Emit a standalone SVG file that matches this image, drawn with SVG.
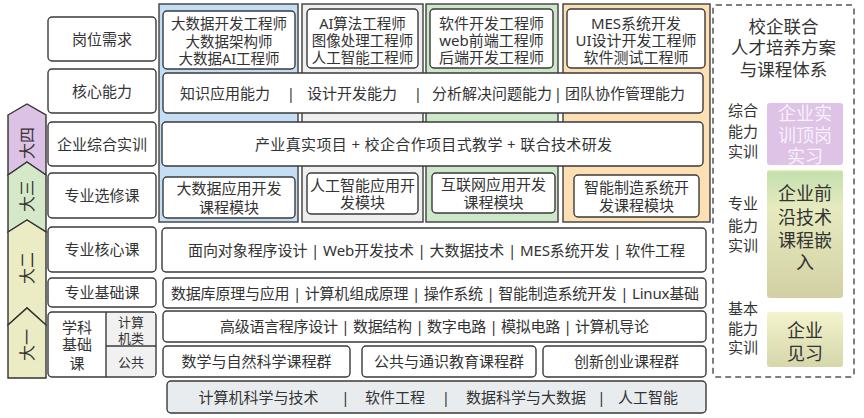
<svg xmlns="http://www.w3.org/2000/svg" width="864" height="418" viewBox="0 0 864 418">
<defs>
<style>
.t{font-family:"Noto Sans","Noto Sans CJK SC",sans-serif;fill:#333;text-anchor:middle;font-size:15px}
.s14{font-size:14.5px}
.s13{font-size:13px}
.s16{font-size:16px}
.s18{font-size:18px}
.s17{font-size:17.5px}
.box{fill:#fff;stroke:#3a3a3a;stroke-width:1.4}
.col{stroke:#4a4a4a;stroke-width:1.5}
.yr{stroke:#333;stroke-width:1.4}
</style>
<linearGradient id="gGreen" x1="0" y1="0" x2="0" y2="1">
<stop offset="0" stop-color="#c3dfae"/>
<stop offset="0.3" stop-color="#e6ebbf"/>
<stop offset="1" stop-color="#d2d0a4"/>
</linearGradient>
<linearGradient id="gYellow" x1="0" y1="0" x2="0" y2="1">
<stop offset="0" stop-color="#f3f3cd"/>
<stop offset="1" stop-color="#d6d6ab"/>
</linearGradient>
</defs>
<rect width="864" height="418" fill="#fff"/>

<g id="columns">
<rect class="col" x="159" y="4" width="139" height="218" fill="#c4dff5"/>
<rect class="col" x="302" y="4" width="121" height="218" fill="#efefef"/>
<rect class="col" x="426" y="4" width="132" height="218" fill="#cde8c9"/>
<rect class="col" x="563" y="4" width="147" height="218" fill="#fddfb4"/>
</g>

<g id="year4"><polygon class="yr" points="8,115 27,104 46,115 46,175 27,162 8,175" fill="#dcc2e4"/>
<text class="t s16" transform="translate(27,143) rotate(-90)" x="0" y="5.8">大四</text></g>
<g id="year3"><polygon class="yr" points="8,175 27,162 46,175 46,232 27,220 8,232" fill="#d5e9c9"/>
<text class="t s16" transform="translate(27,196) rotate(-90)" x="0" y="5.8">大三</text></g>
<g id="year2"><polygon class="yr" points="8,232 27,220 46,232 46,325 27,308 8,325" fill="#ebebc4"/>
<text class="t s16" transform="translate(27,268) rotate(-90)" x="0" y="5.8">大二</text></g>
<g id="year1"><polygon class="yr" points="8,325 27,308 46,325 46,378 8,378" fill="#ebebc4"/>
<text class="t s16" transform="translate(27,345) rotate(-90)" x="0" y="5.8">大一</text></g>

<g id="label-jobs"><rect class="box" x="48" y="17" width="108" height="44" rx="4"/><text class="t" x="102" y="44.5">岗位需求</text></g>
<g id="label-ability"><rect class="box" x="48" y="69" width="108" height="44" rx="4"/><text class="t" x="102" y="96.5">核心能力</text></g>
<g id="label-training"><rect class="box" x="48" y="122" width="108" height="44" rx="4"/><text class="t" x="102" y="149.5">企业综合实训</text></g>
<g id="label-elective"><rect class="box" x="48" y="173" width="108" height="45" rx="4"/><text class="t" x="102" y="201">专业选修课</text></g>
<g id="label-core"><rect class="box" x="48" y="227" width="108" height="45" rx="4"/><text class="t" x="102" y="255">专业核心课</text></g>
<g id="label-basic"><rect class="box" x="48" y="278" width="108" height="29" rx="4"/><text class="t" x="102" y="298">专业基础课</text></g>
<g id="label-subject">
<rect class="box" x="48" y="312" width="108" height="65" rx="4"/>
<rect x="106.5" y="313" width="48.5" height="63" fill="#f1f1f1"/>
<line x1="106" y1="312" x2="106" y2="377" stroke="#3a3a3a" stroke-width="1.4"/>
<line x1="106" y1="346" x2="156" y2="346" stroke="#3a3a3a" stroke-width="1.4"/>
<text class="t"><tspan x="77" y="332.5">学科</tspan><tspan x="77" y="350">基础</tspan><tspan x="77" y="368.5">课</tspan></text>
<text class="t s13"><tspan x="131" y="326.8">计算</tspan><tspan x="131" y="342.8">机类</tspan></text>
<text class="t s13" x="131" y="366.8">公共</text>
</g>

<g id="job-bigdata"><rect class="box" x="163" y="11" width="132" height="58" rx="4"/>
<text class="t s14"><tspan x="229" y="29">大数据开发工程师</tspan><tspan x="229" y="46.5">大数据架构师</tspan><tspan x="229" y="64">大数据AI工程师</tspan></text></g>
<g id="job-ai"><rect class="box" x="307" y="9" width="111" height="59" rx="4"/>
<text class="t s14"><tspan x="362.5" y="28.5">AI算法工程师</tspan><tspan x="362.5" y="46">图像处理工程师</tspan><tspan x="362.5" y="63">人工智能工程师</tspan></text></g>
<g id="job-web"><rect class="box" x="430" y="9" width="123" height="59" rx="4"/>
<text class="t"><tspan x="491.5" y="28.5">软件开发工程师</tspan><tspan x="491.5" y="46">web前端工程师</tspan><tspan x="491.5" y="63">后端开发工程师</tspan></text></g>
<g id="job-mes"><rect class="box" x="567" y="9" width="138" height="59" rx="4"/>
<text class="t"><tspan x="636" y="28.5">MES系统开发</tspan><tspan x="636" y="46">UI设计开发工程师</tspan><tspan x="636" y="63">软件测试工程师</tspan></text></g>

<g id="ability"><rect class="box" x="163" y="73" width="540" height="40" rx="4"/>
<text class="t" y="98.5"><tspan x="225">知识应用能力</tspan><tspan x="291">|</tspan><tspan x="352">设计开发能力</tspan><tspan x="418">|</tspan><tspan x="492">分析解决问题能力</tspan><tspan x="558">|</tspan><tspan x="625">团队协作管理能力</tspan></text></g>

<g id="training"><rect class="box" x="162" y="122" width="541" height="44" rx="4"/>
<text class="t" x="433.5" y="149.5" textLength="357" lengthAdjust="spacing">产业真实项目 + 校企合作项目式教学 + 联合技术研发</text></g>

<g id="mod-bigdata"><rect class="box" x="163" y="177" width="132" height="41" rx="4"/>
<text class="t"><tspan x="229" y="193.5">大数据应用开发</tspan><tspan x="229" y="212.5">课程模块</tspan></text></g>
<g id="mod-ai"><rect class="box" x="307" y="173" width="111" height="41" rx="4"/>
<text class="t"><tspan x="362.5" y="190.5">人工智能应用开</tspan><tspan x="362.5" y="208">发模块</tspan></text></g>
<g id="mod-web"><rect class="box" x="432" y="173" width="123" height="40" rx="4"/>
<text class="t"><tspan x="493.5" y="190">互联网应用开发</tspan><tspan x="493.5" y="208">课程模块</tspan></text></g>
<g id="mod-mes"><rect class="box" x="574" y="175" width="125" height="42" rx="4"/>
<text class="t"><tspan x="636.5" y="192.5">智能制造系统开</tspan><tspan x="636.5" y="210.5">发课程模块</tspan></text></g>

<g id="core-courses"><rect class="box" x="162" y="228" width="544" height="44" rx="4"/>
<text class="t" x="436.5" y="255.5" textLength="497" lengthAdjust="spacing">面向对象程序设计 | Web开发技术 | 大数据技术 | MES系统开发 | 软件工程</text></g>
<g id="basic-courses"><rect class="box" x="163" y="278" width="543" height="30" rx="4"/>
<text class="t" x="435" y="298.5" textLength="528" lengthAdjust="spacing">数据库原理与应用 | 计算机组成原理 | 操作系统 | 智能制造系统开发 | Linux基础</text></g>
<g id="cs-courses"><rect class="box" x="163" y="311" width="543" height="31" rx="4"/>
<text class="t" x="434.5" y="332" textLength="429" lengthAdjust="spacing">高级语言程序设计 | 数据结构 | 数字电路 | 模拟电路 | 计算机导论</text></g>
<g id="math"><rect class="box" x="163" y="346" width="187" height="31" rx="4"/><text class="t" x="256.5" y="367">数学与自然科学课程群</text></g>
<g id="general"><rect class="box" x="362" y="346" width="174" height="31" rx="4"/><text class="t" x="449" y="367">公共与通识教育课程群</text></g>
<g id="innovation"><rect class="box" x="543" y="346" width="163" height="31" rx="4"/><text class="t" x="626.5" y="367">创新创业课程群</text></g>
<g id="majors"><rect class="box" x="167" y="381" width="539" height="32" rx="4" style="fill:#e9ecef"/>
<text class="t" y="402.5"><tspan x="258.5">计算机科学与技术</tspan><tspan x="345.5">|</tspan><tspan x="395">软件工程</tspan><tspan x="446">|</tspan><tspan x="526">数据科学与大数据</tspan><tspan x="601.5">|</tspan><tspan x="648">人工智能</tspan></text></g>

<g id="panel">
<rect x="713" y="5" width="141" height="372" rx="3" fill="none" stroke="#555" stroke-width="1.5" stroke-dasharray="6,4"/>
<text class="t s17"><tspan x="783.5" y="33.4">校企联合</tspan><tspan x="783.5" y="54.4">人才培养方案</tspan><tspan x="783.5" y="76.4">与课程体系</tspan></text>
</g>
<g id="practice-comprehensive">
<text class="t"><tspan x="743" y="115.5">综合</tspan><tspan x="743" y="136.5">能力</tspan><tspan x="743" y="157">实训</tspan></text>
<rect x="767" y="103" width="76" height="62" rx="3" fill="#dfc3e7"/>
<text class="t s18" style="fill:#f8f0fa"><tspan x="805" y="119.6">企业实</tspan><tspan x="805" y="141.6">训顶岗</tspan><tspan x="805" y="162.6">实习</tspan></text>
</g>
<g id="practice-professional">
<text class="t"><tspan x="743" y="208.5">专业</tspan><tspan x="743" y="230.5">能力</tspan><tspan x="743" y="250.5">实训</tspan></text>
<rect x="767" y="170" width="76" height="128" rx="3" fill="url(#gGreen)"/>
<line x1="769" y1="170.5" x2="841" y2="170.5" stroke="#eef0c0" stroke-width="1.5"/>
<text class="t s18"><tspan x="805" y="199.6">企业前</tspan><tspan x="805" y="223.6">沿技术</tspan><tspan x="805" y="246.6">课程嵌</tspan><tspan x="805" y="268.6">入</tspan></text>
</g>
<g id="practice-basic">
<text class="t"><tspan x="743" y="313.5">基本</tspan><tspan x="743" y="333.5">能力</tspan><tspan x="743" y="352.5">实训</tspan></text>
<rect x="767" y="312" width="76" height="55" rx="3" fill="url(#gYellow)"/>
<text class="t s18"><tspan x="805" y="336.6">企业</tspan><tspan x="805" y="359.6">见习</tspan></text>
</g>
</svg>
